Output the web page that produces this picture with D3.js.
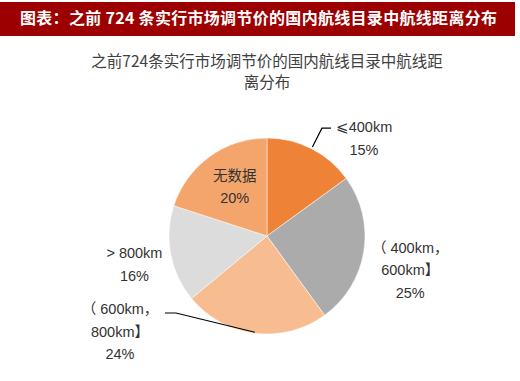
<!DOCTYPE html>
<html><head><meta charset="utf-8">
<script src="https://cdn.jsdelivr.net/npm/d3@7/dist/d3.min.js"></script>
<style>body{margin:0;background:#fff;}svg{display:block;}</style>
</head><body>
<script>
const headerTitle = "图表：之前 724 条实行市场调节价的国内航线目录中航线距离分布";
const chartTitle = ["之前724条实行市场调节价的国内航线目录中航线距", "离分布"];
const categories = ["≤400km", "（400km，600km】", "（600km，800km】", "＞800km", "无数据"];
const labelLines = [["⩽400km"], ["（ 400km，", "600km】"], ["（ 600km，", "800km】"], ["> 800km"], ["无数据"]];
const values = [15, 25, 24, 16, 20];
const colors = ["#EE8236", "#ABABAB", "#F7BD90", "#DCDCDC", "#F4A56C"];

const W = 520, H = 381;
const svg = d3.select("body").append("svg").attr("width", W).attr("height", H);

// header bar
svg.append("rect").attr("x", 0).attr("y", 2).attr("width", 515).attr("height", 34).attr("fill", "#9C0000");
svg.append("text").attr("x", 20).attr("y", 24).attr("fill", "#fff")
  .attr("font-family", "'Noto Sans CJK SC'").attr("font-weight", "bold").attr("font-size", 16)
  .attr("textLength", 477).attr("lengthAdjust", "spacing").text(headerTitle);

// chart title
svg.selectAll("text.title").data(chartTitle).join("text").attr("class", "title")
  .attr("x", 267).attr("y", (d, i) => 67 + i * 21).attr("text-anchor", "middle")
  .attr("fill", "#404040").attr("font-family", "'Noto Sans CJK SC'").attr("font-size", 15.5).text(d => d);

const cx = 267, cy = 236, R = 98;
const g = svg.append("g").attr("transform", `translate(${cx},${cy})`);
const pie = d3.pie().sort(null).value(d => d)(values);
const arc = d3.arc().innerRadius(0).outerRadius(R);
g.selectAll("path").data(pie).join("path").attr("d", arc)
  .attr("fill", (d, i) => colors[i]).attr("stroke", "#fff").attr("stroke-width", 0.5);

const mid = d => (d.startAngle + d.endAngle) / 2;
const pol = (a, r) => [Math.sin(a) * r, -Math.cos(a) * r];

// label placement (relative to slice mid angle)
const labelPos = [
  {r: 0, dx: 97, dy: -104},
  {r: 145, dx: 0, dy: -6},
  {r: 0, dx: -147, dy: 78},
  {r: 135, dx: 0, dy: -3},
  {r: 55, dx: 0, dy: -11}
];
const font = "'Liberation Sans','Noto Sans CJK SC'";
pie.forEach((d, i) => {
  const p = labelPos[i];
  const base = pol(mid(d), p.r);
  const x = base[0] + p.dx, y = base[1] + p.dy;
  const lines = labelLines[i].concat([values[i] + "%"]);
  const t = g.append("text").attr("text-anchor", "middle").attr("fill", "#333")
    .attr("font-family", font).attr("font-size", 14.5);
  lines.forEach((l, j) => {
    t.append("tspan").attr("x", x).attr("y", y + j * 22.5).text(l);
  });
});

// leader lines
const line = d3.line();
{
  const d = pie[0];
  const p1 = pol(mid(d), 100), p2 = pol(mid(d), 121);
  g.append("path").attr("d", line([p1, p2, [p2[0] + 9, p2[1]]]))
    .attr("fill", "none").attr("stroke", "#000").attr("stroke-width", 1.2);
}
{
  const d = pie[2];
  const p1 = pol(mid(d), 97);
  const p2 = [-91, 77];
  g.append("path").attr("d", line([p1, p2, [p2[0] - 11, p2[1]]]))
    .attr("fill", "none").attr("stroke", "#000").attr("stroke-width", 1.2);
}
</script>
</body></html>
